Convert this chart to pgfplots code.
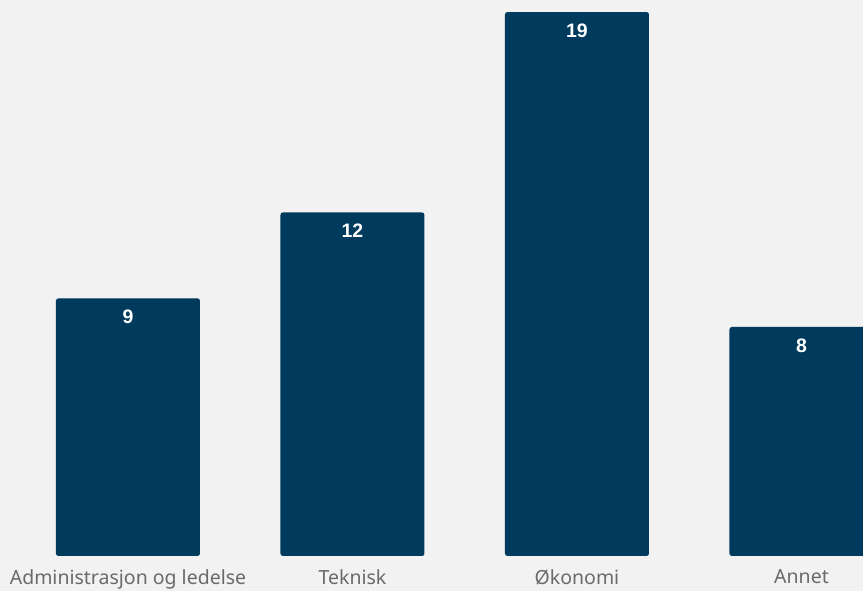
\documentclass[border=0pt]{standalone}
\usepackage{fontspec}
\setmainfont{Noto Sans}
\newfontfamily\valfont{Liberation Sans}
\usepackage{pgfplots}
\pgfplotsset{compat=1.18}
\definecolor{bg}{HTML}{F2F2F2}
\definecolor{bar}{HTML}{003A5C}
\definecolor{lbl}{HTML}{6A6A6A}
\begin{document}
\begin{tikzpicture}
\path[use as bounding box, fill=bg] (0,-35pt) rectangle (863pt,556pt);
\begin{axis}[
  at={(0,0)}, anchor=south west,
  scale only axis, width=863pt, height=556pt,
  xmin=-0.570, xmax=3.274, ymin=0, ymax=19.42,
  /pgf/number format/assume math mode=true,
  axis line style={draw=none},
  ytick=\empty,
  xtick={0,1,2,3},
  xticklabels={Administrasjon og ledelse, Teknisk, Økonomi, Annet},
  major tick length=0pt,
  xticklabel style={font=\fontsize{19.5}{22}\selectfont, text=lbl, yshift=-10pt},
  ybar, bar width=144pt,
  nodes near coords,
  nodes near coords align=below,
  every node near coord/.append style={text=white, font=\valfont\bfseries\fontsize{19.5}{22}\selectfont, yshift=-8pt},
]
\addplot[fill=bar, draw=none, rounded corners=2.5pt] coordinates {(0,9) (1,12) (2,19) (3,8)};
\end{axis}
\end{tikzpicture}
\end{document}
